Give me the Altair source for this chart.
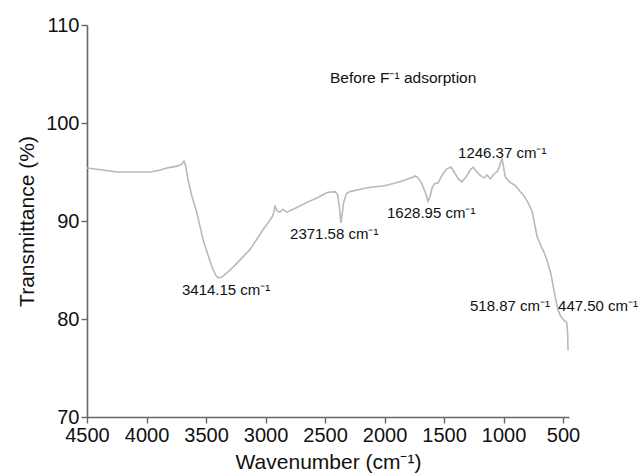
import altair as alt
import pandas as pd

wavenumber = [4500, 4400, 4250, 4100, 3971, 3900, 3830, 3760, 3718, 3700, 3685, 3672,
              3651, 3620, 3576, 3525, 3480, 3450, 3420, 3399, 3370, 3324, 3280, 3240,
              3130, 3021, 2980, 2945, 2930, 2920, 2900, 2880, 2853, 2835, 2820, 2750,
              2651, 2560, 2483, 2416, 2395, 2380, 2366, 2355, 2345, 2320, 2290, 2147,
              2000, 1870, 1800, 1760, 1740, 1720, 1690, 1660, 1634, 1615, 1600, 1580,
              1550, 1520, 1480, 1441, 1410, 1380, 1349, 1310, 1280, 1256, 1230, 1200,
              1180, 1160, 1140, 1110, 1080, 1050, 1030, 1013, 1000, 985, 950, 900,
              861, 830, 800, 760, 718, 690, 660, 635, 600, 567, 542, 520, 508, 495,
              485, 475, 468, 462, 458]
transmittance = [95.4, 95.25, 95.0, 95.0, 95.0, 95.15, 95.4, 95.55, 95.7, 95.85, 96.1, 95.7,
                 94.2, 92.6, 90.8, 88.1, 86.4, 85.3, 84.5, 84.2, 84.25, 84.7, 85.2, 85.7,
                 87.1, 89.1, 89.8, 90.4, 90.9, 91.5, 91.0, 90.9, 91.2, 91.0, 90.9, 91.3,
                 91.9, 92.4, 92.9, 93.0, 92.7, 91.5, 89.8, 90.8, 91.8, 92.8, 93.0, 93.4,
                 93.6, 94.0, 94.3, 94.5, 94.6, 94.4, 93.9, 93.0, 92.0, 92.6, 93.4, 93.8,
                 93.9, 94.6, 95.3, 95.5, 94.9, 94.3, 94.0, 94.6, 95.2, 95.5, 95.1, 94.7,
                 94.5, 94.4, 94.7, 94.3, 94.8, 95.1, 95.7, 96.4, 95.5, 94.5, 94.0, 93.6,
                 93.0, 92.6, 92.0, 91.0, 88.4, 87.6, 86.8, 86.0, 84.5, 82.3, 80.9, 80.3,
                 80.1, 79.9, 79.8, 79.7, 79.6, 78.6, 76.8]

ann_text = ["Before F\u207b\u00b9 adsorption", "3414.15 cm\u207b\u00b9", "2371.58 cm\u207b\u00b9",
            "1628.95 cm\u207b\u00b9", "1246.37 cm\u207b\u00b9", "518.87 cm\u207b\u00b9",
            "447.50 cm\u207b\u00b9"]
ann_x = [2458, 3702, 2794, 1979, 1382, 1282, 542]
ann_y = [104.6, 83.0, 88.7, 90.8, 96.95, 81.3, 81.3]
ann_size = [15.5, 15, 15, 15, 15, 15, 15]

x_ticks = [4500, 4000, 3500, 3000, 2500, 2000, 1500, 1000, 500]
y_ticks = [70, 80, 90, 100, 110]

spec = pd.DataFrame({"wn": wavenumber, "t": transmittance})
ann = pd.DataFrame({"label": ann_text, "wn": ann_x, "t": ann_y, "size": ann_size})

xscale = alt.Scale(domain=[4500, 450], zero=False, nice=False)
yscale = alt.Scale(domain=[70, 110], zero=False, nice=False)

axis_style = dict(grid=False, format="d", labelFontSize=20, titleFontSize=21,
                  titleFontWeight="normal", labelPadding=2, tickSize=6,
                  domainColor="#666", tickColor="#666", domainWidth=1.6, tickWidth=1.4,
                  labelColor="#111", titleColor="#111", labelFont="Liberation Sans",
                  titleFont="Liberation Sans", labelFlush=False)

line = alt.Chart(spec).mark_line(color="#b9b9b9", strokeWidth=1.6).encode(
    x=alt.X("wn:Q", scale=xscale,
            axis=alt.Axis(title="Wavenumber (cm\u207b\u00b9)", values=x_ticks,
                          titlePadding=6, **axis_style)),
    y=alt.Y("t:Q", scale=yscale,
            axis=alt.Axis(title="Transmittance (%)", values=y_ticks,
                          titlePadding=8, **axis_style)),
    order="index:Q",
).transform_window(index="row_number()")

text = alt.Chart(ann).mark_text(align="left", baseline="middle", color="#111",
                                font="Liberation Sans").encode(
    x=alt.X("wn:Q", scale=xscale),
    y=alt.Y("t:Q", scale=yscale),
    text="label:N",
    size=alt.Size("size:Q", scale=None, legend=None),
)

chart = alt.layer(line, text).properties(
    width=482, height=392,
    autosize=alt.AutoSizeParams(type="none"),
    padding={"left": 87, "top": 25, "right": 75, "bottom": 59},
    background="white",
).configure_view(stroke=None)

chart.save("out.html", embed_options={"renderer": "svg", "actions": False})
